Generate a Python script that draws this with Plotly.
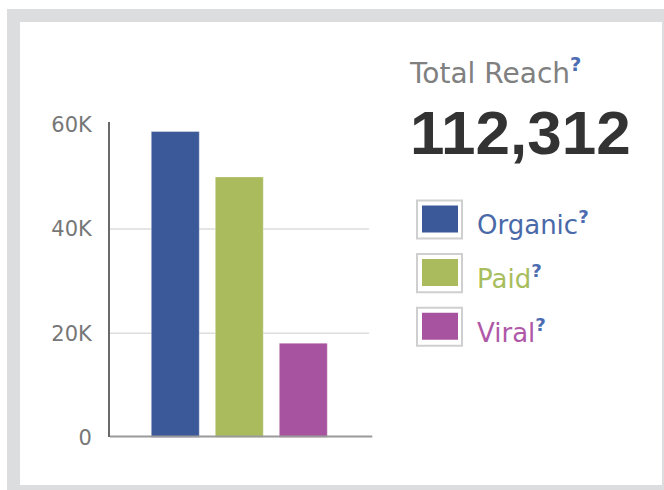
import plotly.graph_objects as go

# 데이터
categories = ["Organic", "Paid", "Viral"]
reach_values = [58700, 50000, 18100]
total_reach = "112,312"
tick_values = [0, 20000, 40000, 60000]
tick_labels = ["0", "20K", "40K", "60K"]
grid_values = [20000, 40000]

bar_colors = ["#3b5998", "#aabb5e", "#a7539f"]
label_colors = ["#4a69a8", "#a8bd5c", "#b058a8"]
q_color = "#4c6cb2"

W, H = 664, 490
# 캡처 화면에서 세로 좌표가 s = 9 + 0.955 * y 로 찍혀서 보정
Y_OFF, Y_SCALE = 9.0, 0.955


def px(x):
    return x / W


def py(s):
    return 1 - ((s - Y_OFF) / Y_SCALE) / H


fig = go.Figure()

fig.add_trace(
    go.Bar(
        x=categories, y=reach_values,
        marker=dict(color=bar_colors, line=dict(color="rgba(255,255,255,0.35)", width=1)),
        hoverinfo="x+y", showlegend=False,
    )
)

# 바깥 회색 테두리 + 안쪽 흰 패널
shapes = [
    dict(type="rect", xref="paper", yref="paper", x0=px(7), x1=px(664), y0=-0.1, y1=py(9),
         fillcolor="#dcdddf", line=dict(width=0), layer="below"),
    dict(type="rect", xref="paper", yref="paper", x0=px(20), x1=px(662), y0=py(484), y1=py(22),
         fillcolor="white", line=dict(width=0), layer="below"),
]

# 그리드 라인 (20K, 40K만)
for v in grid_values:
    shapes.append(dict(type="line", xref="x domain", yref="y", x0=0, x1=0.993, y0=v, y1=v,
                       line=dict(color="#dddddd", width=1.5), layer="below"))

# 굵은 바닥선
shapes.append(dict(type="line", xref="x domain", yref="y", x0=0, x1=1.005, y0=0, y1=0,
                   line=dict(color="#9a9a9a", width=4), layer="above"))

annotations = [
    dict(text="Total Reach<sup><b><span style='color:%s'>?</span></b></sup>" % q_color,
         x=px(407), y=py(71), xref="paper", yref="paper", xanchor="left", yanchor="middle",
         showarrow=False, font=dict(family="DejaVu Sans", size=28, color="#808080")),
    dict(text="<b>%s</b>" % total_reach,
         x=px(408), y=py(132), xref="paper", yref="paper", xanchor="left", yanchor="middle",
         showarrow=False, font=dict(family="Liberation Sans", size=62, color="#333333")),
]

# 범례 (네모 상자 + 라벨)
step = 53.5
for i, name in enumerate(categories):
    top = 200 + i * step
    shapes.append(dict(type="rect", xref="paper", yref="paper",
                       x0=px(417), x1=px(462), y0=py(top + 38), y1=py(top),
                       fillcolor="white", line=dict(color="#cfcfcf", width=2)))
    shapes.append(dict(type="rect", xref="paper", yref="paper",
                       x0=px(422), x1=px(458), y0=py(top + 32), y1=py(top + 5),
                       fillcolor=bar_colors[i], line=dict(width=0)))
    annotations.append(
        dict(text="%s<sup><b><span style='color:%s'>?</span></b></sup>" % (name, q_color),
             x=px(475), y=py(top + 23), xref="paper", yref="paper",
             xanchor="left", yanchor="middle", showarrow=False,
             font=dict(family="DejaVu Sans", size=26, color=label_colors[i]))
    )

fig.update_layout(
    width=W, height=H,
    margin=dict(l=0, r=0, t=0, b=0),
    paper_bgcolor="white", plot_bgcolor="rgba(0,0,0,0)",
    bargap=0.25,
    shapes=shapes, annotations=annotations,
    xaxis=dict(domain=[px(110), px(371)], range=[-1.02, 3.058],
               showticklabels=False, showgrid=False, zeroline=False, showline=False),
    yaxis=dict(domain=[py(436.5), py(121.7)], range=[0, 60540],
               tickvals=tick_values, ticktext=tick_labels,
               showgrid=False, zeroline=False,
               showline=True, linecolor="#6a6a6a", linewidth=2,
               ticks="", ticklabelstandoff=12,
               tickfont=dict(family="DejaVu Sans", size=21, color="#777777")),
)

# 그래프 div를 화면 왼쪽 위에 고정
fix_js = ("var gd=document.getElementById('{plot_id}');"
          "gd.style.position='fixed';gd.style.top='0';gd.style.left='0';"
          "document.body.style.margin='0';document.body.style.overflow='hidden';")
fig.write_html("out.html", config={"displayModeBar": False}, post_script=fix_js)
